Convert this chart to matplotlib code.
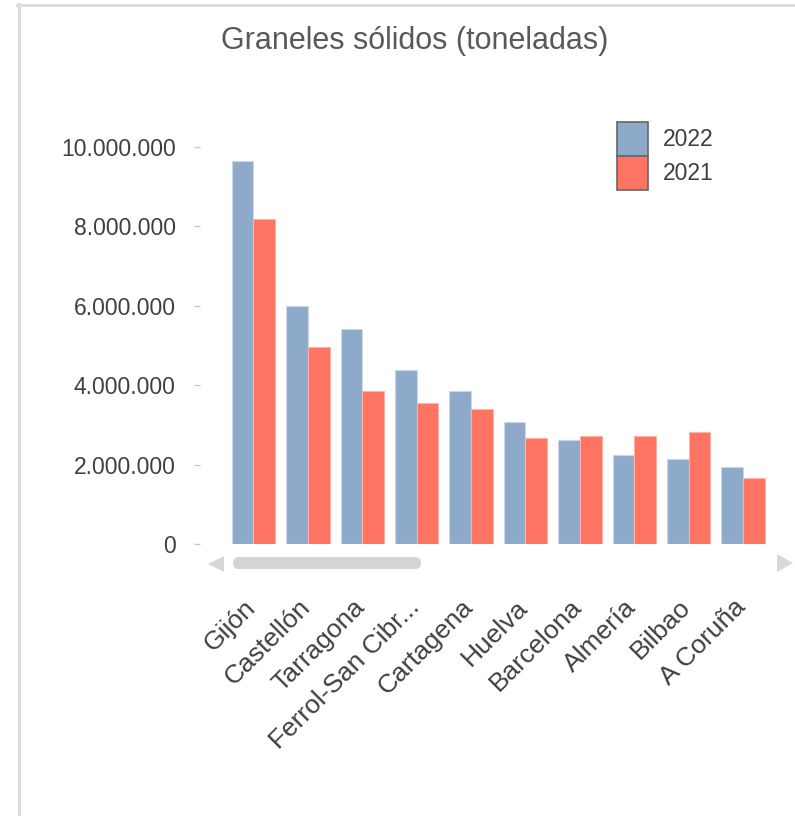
import matplotlib
matplotlib.use("Agg")
import matplotlib.pyplot as plt
import numpy as np
from matplotlib.patches import Patch, FancyBboxPatch, Polygon
from matplotlib.lines import Line2D
from matplotlib.ticker import FuncFormatter

# ---- data ----
categories = ["Gijón", "Castellón", "Tarragona", "Ferrol-San Cibr...", "Cartagena",
              "Huelva", "Barcelona", "Almería", "Bilbao", "A Coruña"]
values_2022 = [9650000, 6000000, 5420000, 4380000, 3860000,
               3080000, 2610000, 2250000, 2140000, 1930000]
values_2021 = [8190000, 4950000, 3860000, 3540000, 3390000,
               2660000, 2720000, 2720000, 2820000, 1670000]
series_labels = ["2022", "2021"]
yticks = [0, 2000000, 4000000, 6000000, 8000000, 10000000]

W, H = 795, 816
DPI = 100
plt.rcParams['font.family'] = ['Liberation Sans', 'DejaVu Sans']

fig = plt.figure(figsize=(W / DPI, H / DPI), dpi=DPI)
fig.patch.set_facecolor("white")

def fx(x):
    return x / W

def fy(y):
    return 1 - y / H

# axes in pixel terms
ax_left, ax_right, ax_bottom, ax_top = 200, 775, 544, 127
ax = fig.add_axes([fx(ax_left), fy(ax_bottom), (ax_right - ax_left) / W, (ax_bottom - ax_top) / H])

blue = "#8EAACB"
red = "#FD7462"
x = np.arange(len(categories))
bw = 0.4
ax.bar(x - bw / 2, values_2022, width=bw, color=blue, edgecolor="#C9D7E8", linewidth=0.8)
ax.bar(x + bw / 2, values_2021, width=bw, color=red, edgecolor="#FFB3A8", linewidth=0.8)

ax.set_xlim(-0.983, 9.587)
ax.set_ylim(0, 10500000)
for s in ax.spines.values():
    s.set_visible(False)
ax.set_yticks(yticks)
ax.yaxis.set_major_formatter(FuncFormatter(lambda v, p: f"{int(v):,}".replace(",", ".")))
ax.tick_params(axis="y", length=4, width=1, color="#C8C8C8", pad=13.5,
               labelsize=16.5, labelcolor="#404040")
ax.set_xticks([])

# x labels
for i, lab in enumerate(categories):
    ax.annotate(lab, xy=(i, 0), xycoords="data", xytext=(-10, -51), textcoords="offset pixels",
                rotation=45, rotation_mode="anchor", ha="right", va="top",
                fontsize=19, color="#404040", annotation_clip=False)

# legend
handles = [Patch(facecolor=blue, edgecolor="#666666", linewidth=1.2),
           Patch(facecolor=red, edgecolor="#666666", linewidth=1.2)]
fig.legend(handles, series_labels, loc="upper left", bbox_to_anchor=(fx(617), fy(122)),
           frameon=False, borderpad=0, borderaxespad=0, fontsize=16.5,
           handlelength=1.35, handleheight=1.91, labelspacing=0, handletextpad=0.65,
           labelcolor="#404040")

# title
fig.text(fx(415), fy(41), "Graneles sólidos (toneladas)", ha="center", va="center",
         fontsize=22, color="#595959")

# scrollbar
sb = FancyBboxPatch((fx(233), fy(569)), fx(421) - fx(233), (569 - 557) / H,
                    boxstyle="round,pad=0,rounding_size=0.0075", mutation_aspect=W / H,
                    transform=fig.transFigure, facecolor="#D4D4D4", edgecolor="none")
fig.patches.append(sb)
fig.patches.append(Polygon([(fx(208), fy(564)), (fx(224), fy(556)), (fx(224), fy(572))],
                           closed=True, transform=fig.transFigure, facecolor="#D8D8D8", edgecolor="none"))
fig.patches.append(Polygon([(fx(793), fy(563)), (fx(777), fy(554)), (fx(777), fy(572))],
                           closed=True, transform=fig.transFigure, facecolor="#D8D8D8", edgecolor="none"))

# frame
fig.lines.append(Line2D([fx(17), fx(795)], [fy(5), fy(5)], transform=fig.transFigure,
                        color="#DDDDDD", linewidth=2.2))
fig.lines.append(Line2D([fx(18.5), fx(18.5)], [fy(4), fy(816)], transform=fig.transFigure,
                        color="#DDDDDD", linewidth=2.2))

fig.savefig("out.png", dpi=DPI, facecolor="white")
